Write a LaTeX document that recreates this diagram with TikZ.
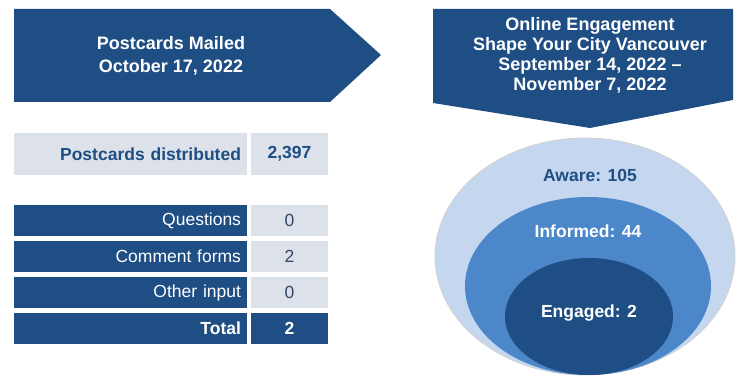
\documentclass[tikz,border=0pt]{standalone}
\usepackage{fontspec}
\setmainfont{Liberation Sans}
\definecolor{navy}{RGB}{31,78,133}
\definecolor{midblue}{RGB}{76,135,201}
\definecolor{paleblue}{RGB}{197,215,238}
\definecolor{cellgray}{RGB}{221,226,234}
\definecolor{digitgray}{RGB}{52,70,100}
\tikzset{
  banner/.style={fill=navy},
  bannertext/.style={text=white, font=\fontsize{18}{20}\selectfont\bfseries, align=center},
  labelcell/.style={fill=navy, text=white, minimum height=31, text width=221, align=right, inner xsep=6, font=\fontsize{17.5}{20}\selectfont},
  valuecell/.style={fill=cellgray, text=digitgray, minimum width=77, minimum height=31, font=\fontsize{17.5}{20}\selectfont},
  ringtext/.style={font=\fontsize{17.5}{20}\selectfont\bfseries}
}
\begin{document}
\begin{tikzpicture}[x=1pt,y=-1pt]
  \useasboundingbox (0,0) rectangle (736,377);
  % Mailed arrow
  \fill[banner] (14,9) -- (330,9) -- (381,55) -- (330,102) -- (14,102) -- cycle;
  \node[bannertext, font=\fontsize{18}{23}\selectfont\bfseries] (mailed) at (171,56) {Postcards Mailed\\October 17, 2022};
  % Online engagement arrow
  \fill[banner] (433,9) -- (733,9) -- (733,100) -- (590,128) -- (433,103) -- cycle;
  \node[bannertext] (online) at (590,55) {Online Engagement\\Shape Your City Vancouver\\September 14, 2022 --\\November 7, 2022};
  % Distribution
  \node[labelcell, fill=cellgray, text=navy, minimum height=42, font=\fontsize{17.5}{20}\selectfont\bfseries] (dist) at (130.5,154) {Postcards distributed};
  \node[valuecell, text=navy, minimum height=42, font=\fontsize{17.5}{20}\selectfont\bfseries] (distval) at (289.5,154) {2,397};
  % Input rows
  \node[labelcell] (quest) at (130.5,220.5) {Questions};
  \node[valuecell] (questval) at (289.5,220.5) {0};
  \node[labelcell] (forms) at (130.5,256.5) {Comment forms};
  \node[valuecell] (formsval) at (289.5,256.5) {2};
  \node[labelcell] (other) at (130.5,292.5) {Other input};
  \node[valuecell] (otherval) at (289.5,292.5) {0};
  \node[labelcell, font=\fontsize{17.5}{20}\selectfont\bfseries] (total) at (130.5,328) {Total};
  \node[valuecell, fill=navy, text=white, font=\fontsize{17.5}{20}\selectfont\bfseries] (totalval) at (289.5,328) {2};
  % Rings
  \fill[paleblue, draw=gray!35, line width=0.8] (585,256.5) ellipse [x radius=150, y radius=118.5];
  \fill[midblue] (588,286) ellipse [x radius=123, y radius=89];
  \fill[navy] (589,316.5) ellipse [x radius=84, y radius=58.5];
  \node[ringtext, text=navy] (aware) at (590,175) {Aware: 105};
  \node[ringtext, text=white] (informed) at (588,231) {Informed: 44};
  \node[ringtext, text=white] (engaged) at (589,313) {Engaged: 2};
\end{tikzpicture}
\end{document}
